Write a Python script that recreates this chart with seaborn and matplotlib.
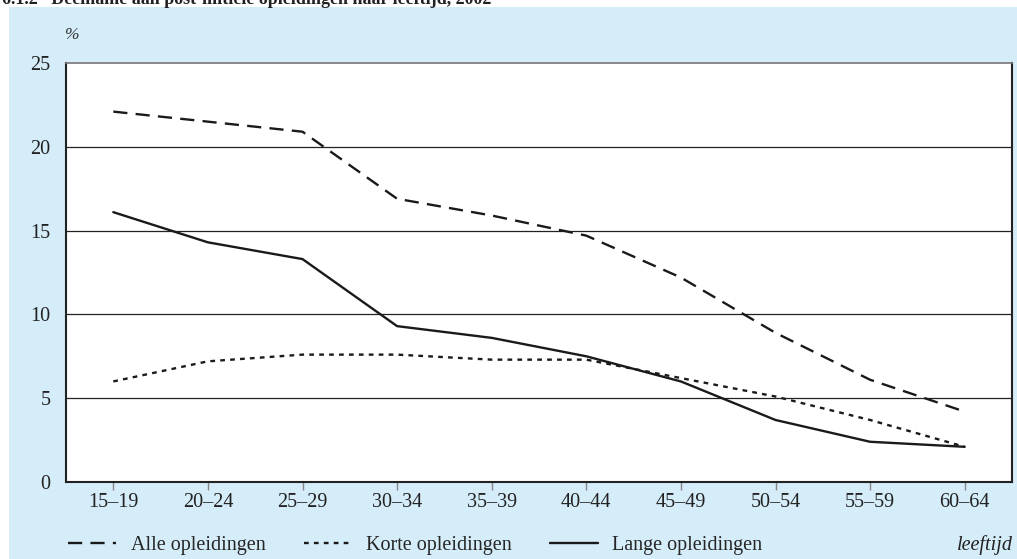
import matplotlib
matplotlib.use("Agg")
import matplotlib.pyplot as plt
import pandas as pd
import seaborn as sns
from matplotlib.patches import Rectangle

# data
age_groups = ["15–19", "20–24", "25–29", "30–34", "35–39",
              "40–44", "45–49", "50–54", "55–59", "60–64"]
alle = [22.1, 21.5, 20.9, 16.9, 15.9, 14.7, 12.2, 8.9, 6.1, 4.2]
korte = [6.0, 7.2, 7.6, 7.6, 7.3, 7.3, 6.2, 5.1, 3.7, 2.1]
lange = [16.1, 14.3, 13.3, 9.3, 8.6, 7.5, 6.0, 3.7, 2.4, 2.1]
series_names = ["Alle opleidingen", "Korte opleidingen", "Lange opleidingen"]

df = pd.DataFrame({
    "leeftijd": age_groups * 3,
    "pct": alle + korte + lange,
    "reeks": [series_names[0]] * 10 + [series_names[1]] * 10 + [series_names[2]] * 10,
})

sns.set_style("white")
plt.rcParams["font.family"] = ["Liberation Serif", "DejaVu Serif"]

bg = "#d5ecf9"
fs = 14.5
fig = plt.figure(figsize=(10.17, 5.59), dpi=100)
fig.patch.set_facecolor("white")
fig.patches.append(Rectangle((9 / 1017, 0), 1 - 9 / 1017, 1 - 7 / 559,
                             transform=fig.transFigure, facecolor=bg,
                             edgecolor="none", zorder=-10))

ax = fig.add_axes([66 / 1017, 1 - 482 / 559, (1012 - 66) / 1017, (482 - 63) / 559])
ax.set_facecolor("white")

for y in [5, 10, 15, 20]:
    ax.axhline(y, color="#222222", lw=0.9, zorder=1)

sns.lineplot(data=df, x="leeftijd", y="pct", style="reeks",
             dashes={series_names[0]: (6, 3.5), series_names[1]: (2, 2.2), series_names[2]: ""},
             color="#1a1a1a", linewidth=1.7, ax=ax, legend=True, zorder=3)

ax.set_xlim(-0.5, 9.5)
ax.set_ylim(0, 25)
ax.set_yticks([0, 5, 10, 15, 20, 25])
ax.set_xlabel("")
ax.set_ylabel("")
ax.tick_params(axis="y", length=0, labelsize=fs, pad=11, colors="#222222")
ax.tick_params(axis="x", length=6, width=1, color="#888888", labelsize=fs,
               pad=2, direction="out", bottom=True)
for lbl in ax.get_xticklabels():
    lbl.set_color("#222222")

for side in ["left", "bottom", "right"]:
    ax.spines[side].set_color("#222222")
    ax.spines[side].set_linewidth(1.5)
ax.spines["top"].set_color("#777777")
ax.spines["top"].set_linewidth(1.2)

handles, labels = ax.get_legend_handles_labels()
ax.get_legend().remove()
fig.legend(handles, labels, loc="center left", bbox_to_anchor=(50 / 1017, 1 - 545 / 559),
           ncol=3, frameon=False, fontsize=fs, handlelength=2.4, handletextpad=0.7,
           columnspacing=1.9)

fig.text(1013 / 1017, 1 - 545 / 559, "leeftijd", ha="right", va="center",
         fontsize=fs, style="italic", color="#222222")
fig.text(72 / 1017, 1 - 35 / 559, "%", ha="center", va="center",
         fontsize=12.5, style="italic", color="#333333")
fig.text(2 / 1017, 1 - 4 / 559, "6.1.2   Deelname aan post-initiële opleidingen naar leeftijd, 2002",
         ha="left", va="baseline", fontsize=13, fontweight="bold", color="#222222")

fig.savefig("out.png", dpi=100, facecolor=fig.get_facecolor())
